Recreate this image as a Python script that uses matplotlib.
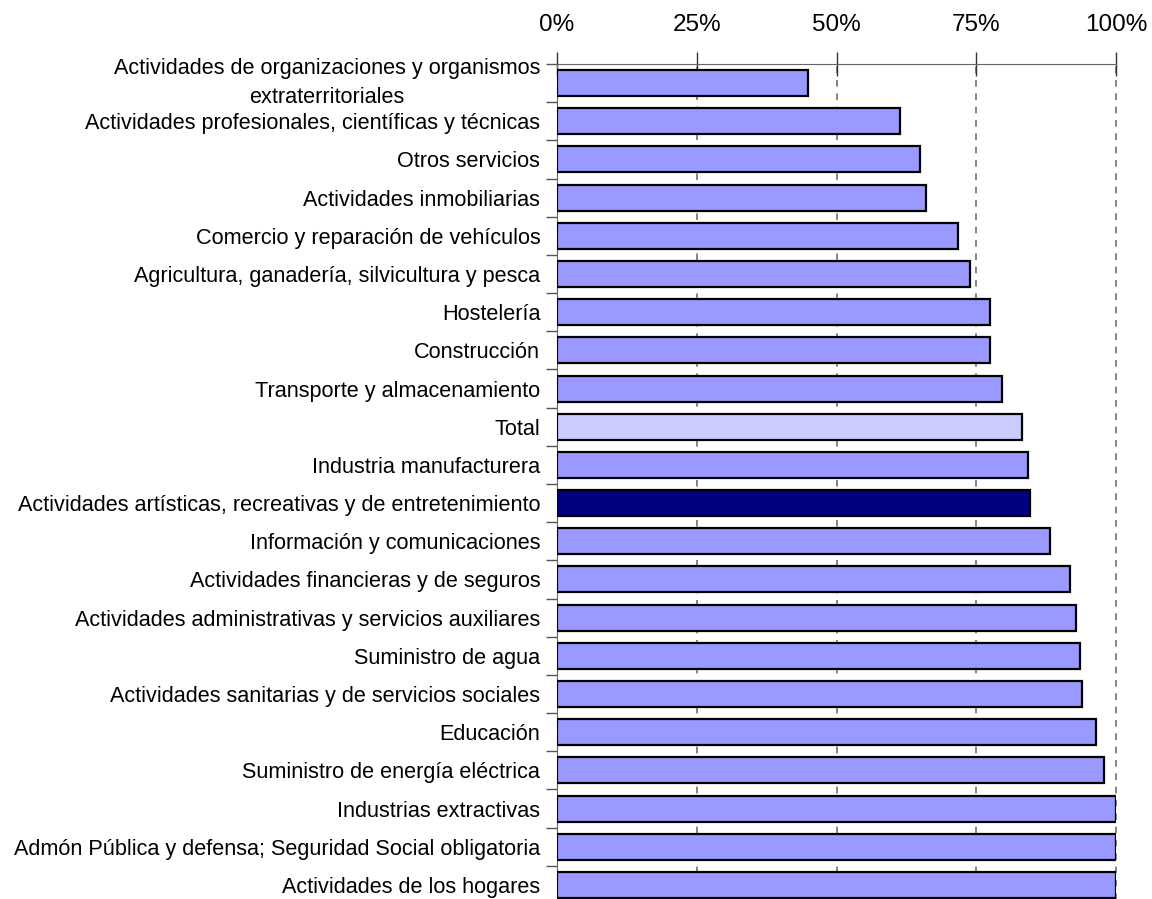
import numpy as np
import matplotlib.pyplot as plt

plt.rcParams['font.family'] = ['Liberation Sans', 'DejaVu Sans']

# Share per sector (%), top to bottom
sectores = [
    'Actividades de organizaciones y organismos\nextraterritoriales',
    'Actividades profesionales, científicas y técnicas',
    'Otros servicios',
    'Actividades inmobiliarias',
    'Comercio y reparación de vehículos',
    'Agricultura, ganadería, silvicultura y pesca',
    'Hostelería',
    'Construcción',
    'Transporte y almacenamiento',
    'Total',
    'Industria manufacturera',
    'Actividades artísticas, recreativas y de entretenimiento',
    'Información y comunicaciones',
    'Actividades financieras y de seguros',
    'Actividades administrativas y servicios auxiliares',
    'Suministro de agua',
    'Actividades sanitarias y de servicios sociales',
    'Educación',
    'Suministro de energía eléctrica',
    'Industrias extractivas',
    'Admón Pública y defensa; Seguridad Social obligatoria',
    'Actividades de los hogares',
]
valores = [44.9, 61.4, 64.9, 66.0, 71.7, 73.9, 77.5, 77.5, 79.6, 83.2, 84.3,
           84.6, 88.2, 91.8, 92.8, 93.6, 93.9, 96.4, 97.9, 100.0, 100.0, 100.0]
ticks = [0, 25, 50, 75, 100]

colores = []
for s in sectores:
    if s == 'Total':
        colores.append('#CCCCFF')
    elif s.startswith('Actividades artísticas'):
        colores.append('#000080')
    else:
        colores.append('#9999FF')

W, H = 1152, 899
fig = plt.figure(figsize=(W / 100, H / 100), dpi=100)
ax = fig.add_axes([557 / W, -5 / H, 559 / W, 840 / H])

y = np.arange(len(sectores))
ax.barh(y, valores, height=0.68, color=colores, edgecolor='black',
        linewidth=1.6, zorder=3)

# dashed gridlines behind the bars (drawn unclipped so the 100% one shows)
for t in ticks[1:]:
    ax.axvline(t, color='#707070', linestyle=(0, (4, 4)), linewidth=1.2,
               zorder=0, clip_on=False)

ax.set_xlim(0, 100)
ax.set_ylim(len(sectores) - 0.5, -0.5)

ax.xaxis.tick_top()
ax.set_xticks(ticks)
ax.set_xticklabels([f'{t}%' for t in ticks], fontsize=17.5)
ax.tick_params(axis='x', direction='inout', length=17, width=1,
               color='#333333', pad=12)

ax.set_yticks(y)
ax.set_yticklabels(sectores, fontsize=15.6, linespacing=1.45)
ax.set_yticks(np.arange(len(sectores) + 1) - 0.5, minor=True)
ax.tick_params(axis='y', which='major', length=0, pad=12)
ax.tick_params(axis='y', which='minor', length=8, width=1, color='#555555')
for lbl in ax.get_yticklabels():
    if '\n' in lbl.get_text():
        lbl.set_va('center')
        lbl.set_multialignment('center')

for side in ['right', 'bottom']:
    ax.spines[side].set_visible(False)
ax.spines['top'].set_color('#666666')
ax.spines['left'].set_color('#666666')

fig.savefig('out.png', dpi=100)
